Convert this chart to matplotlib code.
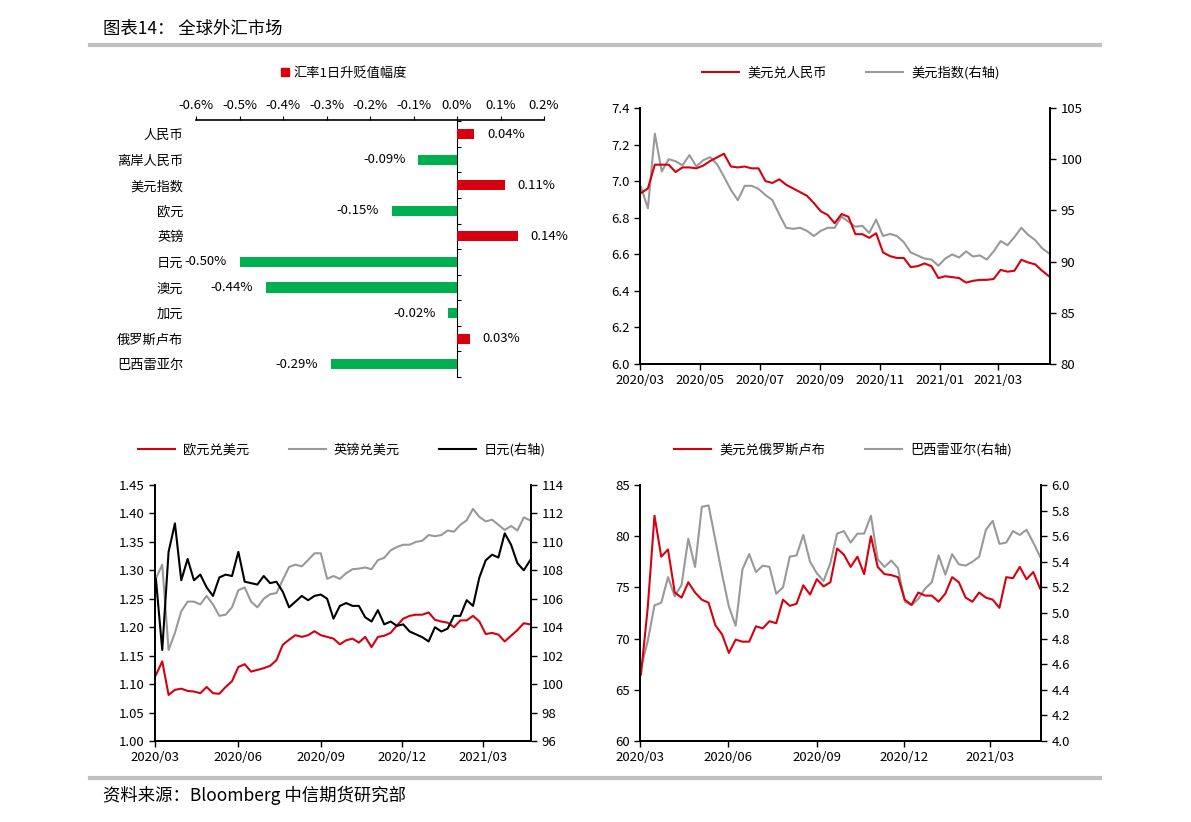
import numpy as np
import pandas as pd
import matplotlib
matplotlib.use("Agg")
import matplotlib.pyplot as plt
import matplotlib.dates as mdates
from matplotlib.lines import Line2D
from matplotlib.patches import Patch
from matplotlib.ticker import FuncFormatter, MultipleLocator

plt.rcParams['font.family'] = ['Noto Sans CJK SC', 'DejaVu Sans']
plt.rcParams['axes.unicode_minus'] = False

RED = '#d7000f'
GREEN = '#00b050'
GRAY = '#999999'

# ---- bar chart: 1-day change (%) ----
fx_names = ['人民币', '离岸人民币', '美元指数', '欧元', '英镑',
            '日元', '澳元', '加元', '俄罗斯卢布', '巴西雷亚尔']
fx_change = [0.04, -0.09, 0.11, -0.15, 0.14, -0.50, -0.44, -0.02, 0.03, -0.29]

# ---- weekly series, 2020-03 .. 2021-04 ----
date_start, date_end = '2020-03-02', '2021-04-22'

usd_cny = [6.935, 6.96, 7.09, 7.09, 7.09, 7.05, 7.075, 7.075, 7.07, 7.085,
           7.11, 7.13, 7.15, 7.08, 7.075, 7.08, 7.07, 7.07, 7.00, 6.99,
           7.01, 6.98, 6.96, 6.94, 6.92, 6.88, 6.835, 6.815, 6.77, 6.82,
           6.805, 6.71, 6.71, 6.69, 6.715, 6.61, 6.59, 6.58, 6.58, 6.53,
           6.535, 6.55, 6.535, 6.47, 6.48, 6.475, 6.47, 6.445, 6.455, 6.46,
           6.46, 6.465, 6.515, 6.505, 6.51, 6.57, 6.555, 6.545, 6.51, 6.48]

dxy = [97.3, 95.2, 102.5, 98.8, 100.0, 99.8, 99.4, 100.4, 99.3, 99.9,
       100.2, 99.5, 98.3, 97.0, 96.0, 97.4, 97.4, 97.1, 96.5, 96.0,
       94.6, 93.3, 93.2, 93.3, 93.0, 92.5, 93.0, 93.3, 93.3, 94.4,
       93.9, 93.4, 93.5, 92.8, 94.1, 92.5, 92.7, 92.5, 91.9, 90.9,
       90.6, 90.3, 90.2, 89.6, 90.3, 90.7, 90.4, 91.0, 90.5, 90.6,
       90.2, 91.0, 92.0, 91.6, 92.4, 93.3, 92.6, 92.1, 91.3, 90.8]

eur_usd = [1.116, 1.14, 1.081, 1.09, 1.092, 1.088, 1.087, 1.084, 1.095, 1.084,
           1.083, 1.095, 1.105, 1.13, 1.135, 1.122, 1.125, 1.128, 1.132, 1.142,
           1.169, 1.178, 1.186, 1.183, 1.186, 1.193, 1.186, 1.183, 1.18, 1.17,
           1.177, 1.18, 1.173, 1.183, 1.165, 1.183, 1.185, 1.19, 1.203, 1.215,
           1.22, 1.222, 1.222, 1.226, 1.213, 1.21, 1.208, 1.20, 1.212, 1.212,
           1.22, 1.21, 1.188, 1.19, 1.187, 1.175, 1.185, 1.195, 1.207, 1.205]

gbp_usd = [1.286, 1.31, 1.16, 1.19, 1.228, 1.245, 1.245, 1.24, 1.255, 1.24,
           1.22, 1.222, 1.235, 1.265, 1.27, 1.245, 1.235, 1.25, 1.258, 1.26,
           1.283, 1.306, 1.31, 1.307, 1.318, 1.33, 1.33, 1.285, 1.29, 1.285,
           1.295, 1.302, 1.303, 1.305, 1.302, 1.318, 1.322, 1.335, 1.341, 1.345,
           1.345, 1.35, 1.352, 1.362, 1.36, 1.362, 1.37, 1.368, 1.38, 1.388,
           1.408, 1.394, 1.386, 1.389, 1.38, 1.371, 1.378, 1.37, 1.393, 1.388]

usd_jpy = [107.4, 102.4, 109.3, 111.3, 107.3, 108.8, 107.3, 107.7, 106.8, 106.2,
           107.5, 107.7, 107.6, 109.3, 107.2, 107.1, 107.0, 107.6, 107.1, 107.2,
           106.5, 105.4, 105.8, 106.2, 105.9, 106.2, 106.3, 106.0, 104.6, 105.5,
           105.7, 105.5, 105.5, 104.7, 104.4, 105.2, 104.2, 104.4, 104.1, 104.2,
           103.7, 103.5, 103.3, 103.0, 104.0, 103.7, 103.9, 104.8, 104.8, 105.9,
           105.5, 107.5, 108.7, 109.1, 108.9, 110.6, 109.8, 108.5, 108.0, 108.7]

usd_rub = [66.5, 73.0, 82.0, 78.0, 78.7, 74.5, 74.0, 75.5, 74.5, 73.8,
           73.5, 71.3, 70.4, 68.6, 69.9, 69.7, 69.7, 71.2, 71.0, 71.7,
           71.5, 73.8, 73.2, 73.4, 75.2, 74.3, 75.8, 75.1, 75.5, 78.8,
           78.2, 77.0, 78.0, 76.3, 80.0, 77.0, 76.3, 76.2, 76.0, 73.8,
           73.3, 74.5, 74.2, 74.2, 73.6, 74.4, 76.0, 75.5, 74.0, 73.6,
           74.5, 74.0, 73.8, 73.0, 76.0, 75.9, 77.0, 75.8, 76.5, 74.9]

usd_brl = [4.57, 4.78, 5.06, 5.08, 5.28, 5.13, 5.22, 5.58, 5.36, 5.83,
           5.84, 5.57, 5.30, 5.05, 4.90, 5.34, 5.46, 5.32, 5.37, 5.36,
           5.15, 5.20, 5.44, 5.45, 5.61, 5.40, 5.31, 5.25, 5.39, 5.62,
           5.64, 5.55, 5.62, 5.62, 5.76, 5.42, 5.36, 5.41, 5.35, 5.09,
           5.06, 5.11, 5.19, 5.24, 5.45, 5.30, 5.46, 5.38, 5.37, 5.40,
           5.44, 5.65, 5.72, 5.54, 5.55, 5.64, 5.61, 5.65, 5.55, 5.44]

dates = pd.date_range(date_start, date_end, periods=len(usd_cny))
x_min, x_max = pd.Timestamp('2020-03-01'), pd.Timestamp('2021-04-23')

W, H = 1191, 822


def rect(left, top, right, bottom):
    """pixel box -> figure fraction"""
    return [left / W, 1 - bottom / H, (right - left) / W, (bottom - top) / H]


def style_lines(ax, ax2, months):
    for a in (ax, ax2):
        a.spines['top'].set_visible(False)
        for s in ('left', 'right', 'bottom'):
            a.spines[s].set_linewidth(1.3)
        a.tick_params(direction='out', length=4, width=1, labelsize=9.5)
    ax.set_xlim(x_min, x_max)
    ax.xaxis.set_major_locator(mdates.MonthLocator(bymonth=months))
    ax.xaxis.set_major_formatter(mdates.DateFormatter('%Y/%m'))


def line_legend(handles, labels, cx, cy):
    fig.legend(handles, labels, loc='center', bbox_to_anchor=(cx / W, 1 - cy / H),
               ncol=len(labels), frameon=False, fontsize=9.5,
               handlelength=2.8, columnspacing=3.0, handletextpad=0.6)


fig = plt.figure(figsize=(W / 100, H / 100), dpi=100)

# header / footer
fig.text(103 / W, 1 - 29 / H, '图表14： 全球外汇市场', fontsize=12.5, va='center')
fig.add_artist(Line2D([90 / W, 1100 / W], [1 - 45 / H] * 2, color='#c0c0c0', lw=3))
fig.add_artist(Line2D([90 / W, 1100 / W], [1 - 778 / H] * 2, color='#c0c0c0', lw=3))
fig.text(103 / W, 1 - 795 / H, '资料来源：Bloomberg 中信期货研究部', fontsize=12.5, va='center')

# ---- bar chart ----
ax = fig.add_axes(rect(196, 120, 544, 377))
ypos = np.arange(len(fx_names))
colors = [RED if v > 0 else GREEN for v in fx_change]
ax.barh(ypos, fx_change, height=0.4, color=colors)
ax.set_xlim(-0.6, 0.2)
ax.set_ylim(9.5, -0.55)
ax.xaxis.tick_top()
ax.set_xticks(np.round(np.arange(-0.6, 0.21, 0.1), 1))
ax.xaxis.set_major_formatter(FuncFormatter(lambda v, _: f'{v:.1f}%' if abs(v) > 1e-9 else '0.0%'))
ax.tick_params(axis='x', direction='out', length=3, labelsize=9.5, pad=3)
ax.set_yticks(ypos)
ax.set_yticklabels(fx_names, fontsize=9.5)
ax.tick_params(axis='y', length=0, pad=9)
for s in ('left', 'right', 'bottom'):
    ax.spines[s].set_visible(False)
ax.spines['top'].set_linewidth(1.2)
zero_axis = ax.secondary_yaxis(0.75)
zero_axis.set_yticks(np.arange(-0.5, 10, 1))
zero_axis.set_yticklabels([])
zero_axis.tick_params(direction='out', length=3)
zero_axis.spines['left'].set_linewidth(1.2)
for yi, v in zip(ypos, fx_change):
    ax.annotate(f'{v:.2f}%', (v, yi), xytext=(9 if v > 0 else -9, 0),
                textcoords='offset points', ha='left' if v > 0 else 'right',
                va='center', fontsize=9.5)
fig.legend([Patch(color=RED)], ['汇率1日升贬值幅度'], loc='center',
           bbox_to_anchor=(344 / W, 1 - 73 / H), frameon=False, fontsize=9.5,
           handlelength=0.6, handleheight=0.6, handletextpad=0.3)

# ---- USD/CNY vs DXY ----
ax = fig.add_axes(rect(640, 108, 1050, 364))
ax2 = ax.twinx()
ax2.plot(dates, dxy, color=GRAY, lw=1.5)
ax.plot(dates, usd_cny, color=RED, lw=1.5)
ax.set_zorder(ax2.get_zorder() + 1)
ax.patch.set_visible(False)
ax.set_ylim(6.0, 7.4)
ax.yaxis.set_major_locator(MultipleLocator(0.2))
ax.yaxis.set_major_formatter(FuncFormatter(lambda v, _: f'{v:.1f}'))
ax2.set_ylim(80, 105)
ax2.yaxis.set_major_locator(MultipleLocator(5))
style_lines(ax, ax2, [1, 3, 5, 7, 9, 11])
line_legend([Line2D([], [], color=RED, lw=1.5), Line2D([], [], color=GRAY, lw=1.5)],
            ['美元兑人民币', '美元指数(右轴)'], 851, 73)

# ---- EUR, GBP, JPY ----
ax = fig.add_axes(rect(155, 485, 531, 741))
ax2 = ax.twinx()
ax.plot(dates, eur_usd, color=RED, lw=1.5)
ax.plot(dates, gbp_usd, color=GRAY, lw=1.5)
ax2.plot(dates, usd_jpy, color='black', lw=1.5)
ax.set_ylim(1.0, 1.45)
ax.yaxis.set_major_locator(MultipleLocator(0.05))
ax.yaxis.set_major_formatter(FuncFormatter(lambda v, _: f'{v:.2f}'))
ax2.set_ylim(96, 114)
ax2.yaxis.set_major_locator(MultipleLocator(2))
style_lines(ax, ax2, [3, 6, 9, 12])
line_legend([Line2D([], [], color=RED, lw=1.5), Line2D([], [], color=GRAY, lw=1.5),
             Line2D([], [], color='black', lw=1.5)],
            ['欧元兑美元', '英镑兑美元', '日元(右轴)'], 342, 450)

# ---- RUB, BRL ----
ax = fig.add_axes(rect(640, 485, 1041, 741))
ax2 = ax.twinx()
ax2.plot(dates, usd_brl, color=GRAY, lw=1.5)
ax.plot(dates, usd_rub, color=RED, lw=1.5)
ax.set_zorder(ax2.get_zorder() + 1)
ax.patch.set_visible(False)
ax.set_ylim(60, 85)
ax.yaxis.set_major_locator(MultipleLocator(5))
ax2.set_ylim(4.0, 6.0)
ax2.yaxis.set_major_locator(MultipleLocator(0.2))
ax2.yaxis.set_major_formatter(FuncFormatter(lambda v, _: f'{v:.1f}'))
style_lines(ax, ax2, [3, 6, 9, 12])
line_legend([Line2D([], [], color=RED, lw=1.5), Line2D([], [], color=GRAY, lw=1.5)],
            ['美元兑俄罗斯卢布', '巴西雷亚尔(右轴)'], 843, 450)

fig.savefig('out.png', dpi=100)
